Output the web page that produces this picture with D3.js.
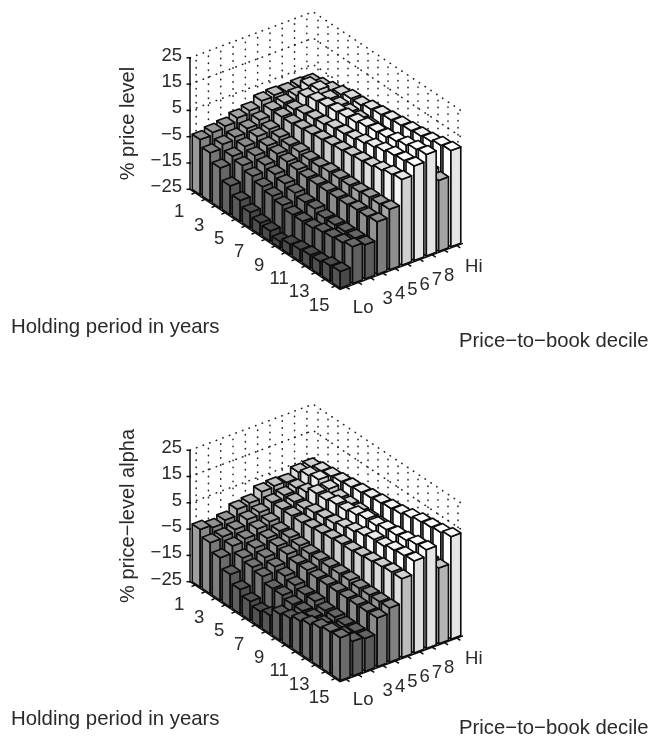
<!DOCTYPE html>
<html>
<head>
<meta charset="utf-8">
<script src="https://cdn.jsdelivr.net/npm/d3@7"></script>
<style>
  body { margin: 0; background: #fff; }
  text { font-family: "Liberation Sans", sans-serif; fill: #2a2a2a; }
</style>
</head>
<body>
<div id="chart-area"></div>
<script>
// Tick labels
const years = d3.range(1, 16)
const deciles = ["Lo", "2", "3", "4", "5", "6", "7", "8", "9", "Hi"]
const yearLabels = [1, 3, 5, 7, 9, 11, 13, 15]
const decileLabels = ["Lo", "3", "4", "5", "6", "7", "8", "Hi"]
const zTicks = [-25, -15, -5, 5, 15, 25]

// One row per decile (Lo..Hi), one value per holding period (1..15)
const priceLevel = [
  [-4, -6.5, -9.7, -14, -17, -19, -20.5, -21, -22.5, -21, -20.5, -20, -20, -19, -18.6],
  [-3, -5, -7, -8, -9.5, -11, -12, -13, -14, -14, -14, -13, -12.5, -12, -11],
  [-2.4, -4, -5, -6, -7, -8, -9, -10, -11, -11, -12, -12, -12, -12, -12],
  [-1, -2.5, -3, -4, -4.5, -5, -5.5, -6, -6, -6, -6, -6, -5.5, -5.5, -5],
  [0, -1, -2, -2.5, -3, -3, -3.5, -3.5, -3, -3, -3, -3, -2.5, -2.5, -2],
  [2, 1, 1, 1, 1.5, 2, 2.5, 3, 3.5, 4, 4.5, 5, 6, 7, 7.6],
  [2.4, 2, 2, 3, 3.5, 4, 5, 5.5, 6, 7, 8, 9, 10, 10.5, 11],
  [2, 3, 5, 6, 6.5, 7, 7.5, 8, 9, 9.5, 10, 11, 12, 13, 13.6],
  [2.4, 5, 6, 5, 5, 5, 5, 5, 5, 5, 4.5, 4, 3.5, 3, 2],
  [2, 3, 4, 5, 6, 6, 7, 7.5, 8, 8.5, 9, 9.5, 10, 11, 11.6]
]

const priceLevelAlpha = [
  [-3, -5.5, -8.7, -12.5, -15.7, -17.7, -19, -18, -15, -14, -12.5, -11.3, -10, -9, -8.7],
  [-4, -5, -6, -8, -9, -10, -12, -12, -13, -13, -13, -13, -13, -12, -11.8],
  [-3, -4, -5, -6, -7, -8, -9, -10, -11, -11, -12, -12, -12.5, -12.5, -12.5],
  [-0.6, -2, -3, -4, -4.5, -5, -6, -6, -6.5, -6.5, -6.5, -6.5, -6.5, -6.5, -6.4],
  [0, -1, -2, -3, -3, -3.5, -4, -4, -4, -4, -4, -4.5, -4.5, -4.5, -4.4],
  [2.6, 1, 1, 1, 1, 1.5, 2, 2.5, 3, 3, 3.5, 4, 4.5, 5, 5],
  [3, 2, 2, 2, 3, 3.5, 4, 5, 6, 7, 8, 8, 9, 9.5, 10],
  [2.6, 3, 4, 6, 6, 7, 7, 8, 9, 9, 10, 10.5, 11, 12, 12.5],
  [4.7, 6, 7, 6, 5, 5, 5, 5, 5, 5, 5, 5, 4.5, 4, 3.8],
  [5, 6, 6.5, 7, 7.5, 8, 8.5, 9, 9.5, 10, 11, 12, 12.5, 13, 14]
]

const WIDTH = 649
const HEIGHT = 739

const svg = d3.select("#chart-area").append("svg")
  .attr("width", WIDTH)
  .attr("height", HEIGHT)

const soft = svg.append("defs").append("filter").attr("id", "soft")
soft.append("feGaussianBlur").attr("stdDeviation", 0.5)

// Scales shared by both panels
const yearBand = d3.scaleBand().domain(years).range([0, 15])
const decileBand = d3.scaleBand().domain(deciles).range([0, 10])
const z = d3.scaleLinear().domain([-25, 25]).range([0, -131.5])
const color = d3.scaleLinear()
  .domain([-22, -12, -5, 2, 7, 11])
  .range(["#444444", "#666666", "#8a8a8a", "#b8b8b8", "#e4e4e4", "#ffffff"])

const BAR = 0.8

function drawPanel(panel) {
  const g = svg.append("g")
    .attr("transform", `translate(190, ${panel.top})`)
    .attr("filter", "url(#soft)")

  // oblique projection: years run down-right, deciles run up-right
  const project = (h, d, v) => [h * 10 + d * 12.3, h * 6.67 - d * 4.6 + z(v)]
  const path = pts => "M" + pts.map(p => p.join(",")).join("L") + "Z"
  const line = pts => "M" + pts.map(p => p.join(",")).join("L")

  // dotted back walls
  const walls = g.append("g")
    .attr("fill", "none")
    .attr("stroke", "#222")
    .attr("stroke-width", 1.6)
    .attr("stroke-linecap", "round")
    .attr("stroke-dasharray", "0.4 6.6")
  zTicks.forEach(t => {
    walls.append("path").attr("d", line([project(0, 0, t), project(0, 10, t), project(15, 10, t)]))
  })
  deciles.forEach(d => {
    const c = decileBand(d) + 0.5
    walls.append("path").attr("d", line([project(0, c, -25), project(0, c, 25)]))
  })
  years.forEach(y => {
    const c = yearBand(y) + 0.5
    walls.append("path").attr("d", line([project(c, 10, -25), project(c, 10, 25)]))
  })

  // axes
  const axes = g.append("g").attr("fill", "none").attr("stroke", "#111").attr("stroke-width", 1.5)
  axes.append("path").attr("d", line([project(0, 0, 25), project(0, 0, -25), project(15, 0, -25), project(15, 10, -25)]))
  zTicks.forEach(t => {
    const [x, y] = project(0, 0, t)
    axes.append("path").attr("d", line([[x - 3.5, y], [x + 1, y]]))
  })
  years.forEach(y => {
    const [x, yy] = project(yearBand(y) + 0.5, 0, -25)
    axes.append("path").attr("d", line([[x, yy], [x - 3.5, yy + 1.6]]))
  })
  deciles.forEach(d => {
    const [x, yy] = project(15, decileBand(d) + 0.5, -25)
    axes.append("path").attr("d", line([[x, yy], [x + 3.5, yy + 2.2]]))
  })

  // bars, back to front
  const cells = []
  years.forEach((y, i) => {
    d3.range(deciles.length - 1, -1, -1).forEach(j => {
      cells.push({ year: y, decile: deciles[j], value: panel.values[j][i] })
    })
  })

  const bars = g.append("g")
    .attr("stroke", "#0a0a0a")
    .attr("stroke-width", 1.6)
    .attr("stroke-linejoin", "round")
    .selectAll("g")
    .data(cells)
    .join("g")

  const corners = d => {
    const pad = (1 - BAR) / 2
    const h0 = yearBand(d.year) + pad, h1 = h0 + BAR
    const d0 = decileBand(d.decile) + pad, d1 = d0 + BAR
    return { h0, h1, d0, d1 }
  }

  // face along the year direction
  bars.append("path")
    .attr("fill", d => d3.color(color(d.value)).brighter(0.15))
    .attr("d", d => {
      const c = corners(d)
      return path([project(c.h0, c.d0, d.value), project(c.h1, c.d0, d.value), project(c.h1, c.d0, -25), project(c.h0, c.d0, -25)])
    })
  // face along the decile direction
  bars.append("path")
    .attr("fill", d => d3.color(color(d.value)).darker(0.3))
    .attr("d", d => {
      const c = corners(d)
      return path([project(c.h1, c.d0, d.value), project(c.h1, c.d1, d.value), project(c.h1, c.d1, -25), project(c.h1, c.d0, -25)])
    })
  // top
  bars.append("path")
    .attr("fill", d => color(d.value))
    .attr("d", d => {
      const c = corners(d)
      return path([project(c.h0, c.d0, d.value), project(c.h1, c.d0, d.value), project(c.h1, c.d1, d.value), project(c.h0, c.d1, d.value)])
    })

  // tick labels
  const labels = g.append("g").attr("font-size", 18.5)
  labels.selectAll(".z-label")
    .data(zTicks)
    .join("text")
    .attr("class", "z-label")
    .attr("x", -8)
    .attr("y", d => z(d) - 2)
    .attr("text-anchor", "end")
    .attr("dominant-baseline", "middle")
    .text(d => String(d).replace("-", "\u2212"))
  labels.selectAll(".year-label")
    .data(yearLabels)
    .join("text")
    .attr("class", "year-label")
    .attr("x", d => project(yearBand(d) + 0.5, 0.5, -25)[0] - 22)
    .attr("y", d => project(yearBand(d) + 0.5, 0.5, -25)[1] + 27)
    .attr("text-anchor", "middle")
    .text(d => d)
  labels.selectAll(".decile-label")
    .data(decileLabels)
    .join("text")
    .attr("class", "decile-label")
    .attr("x", d => project(15, decileBand(d) + 0.5, -25)[0] + 17)
    .attr("y", d => project(15, decileBand(d) + 0.5, -25)[1] + 26)
    .attr("text-anchor", "middle")
    .text(d => d)

  // axis titles
  g.append("text")
    .attr("transform", `translate(-56, ${z(0)}) rotate(-90)`)
    .attr("text-anchor", "middle")
    .attr("font-size", 20)
    .text(panel.zTitle)
  g.append("text")
    .attr("x", -179)
    .attr("y", panel.titleY1)
    .attr("font-size", 20.4)
    .text("Holding period in years")
  g.append("text")
    .attr("x", 458.5)
    .attr("y", panel.titleY2)
    .attr("text-anchor", "end")
    .attr("font-size", 20.3)
    .text("Price\u2212to\u2212book decile")
}

drawPanel({ top: 189.3, values: priceLevel, zTitle: "% price level", titleY1: 143.7, titleY2: 157.7 })
drawPanel({ top: 581.7, values: priceLevelAlpha, zTitle: "% price\u2212level alpha", titleY1: 143.3, titleY2: 152.8 })
</script>
</body>
</html>
